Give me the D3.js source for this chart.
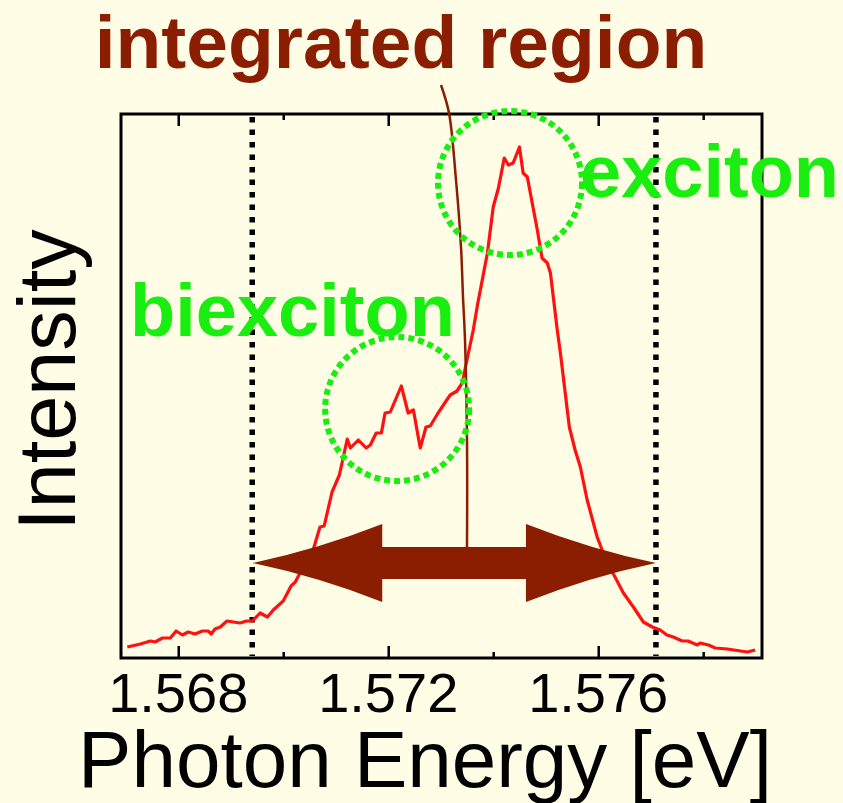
<!DOCTYPE html>
<html>
<head>
<meta charset="utf-8">
<script src="https://cdn.jsdelivr.net/npm/d3@7"></script>
<style>
  body { margin: 0; background: #fffde6; }
  svg { display: block; }
</style>
</head>
<body>
<svg width="843" height="803"></svg>
<script>
// photon energy (eV) and PL intensity (arb. units)
var energy = [1.56703,1.56728,1.56747,1.56756,1.56770,1.56785,1.56796,1.56808,1.56819,1.56832,
  1.56846,1.56857,1.56863,1.56870,1.56880,1.56893,1.56905,1.56918,1.56930,1.56941,
  1.56956,1.56970,1.56981,1.57000,1.57008,1.57015,1.57023,1.57032,1.57042,1.57057,
  1.57070,1.57078,1.57093,1.57107,1.57122,1.57128,1.57143,1.57158,1.57166,1.57177,
  1.57187,1.57194,1.57204,1.57225,1.57238,1.57248,1.57261,1.57272,1.57280,1.57295,
  1.57318,1.57331,1.57341,1.57350,1.57362,1.57370,1.57389,1.57400,1.57410,1.57421,
  1.57429,1.57438,1.57450,1.57457,1.57465,1.57484,1.57493,1.57503,1.57509,1.57522,
  1.57528,1.57545,1.57556,1.57566,1.57579,1.57598,1.57617,1.57632,1.57648,1.57667,
  1.57686,1.57703,1.57718,1.57731,1.57743,1.57760,1.57771,1.57789,1.57794,1.57810,
  1.57823,1.57846,1.57884,1.57899];
var intensity = [11,14,17,16,20,20,27,23,26,24,
  27,27,24,29,31,37,36,35,37,37,
  45,41,48,57,65,72,76,85,98,108,
  131,132,166,183,219,210,218,210,213,225,
  225,245,246,272,245,248,210,231,232,245,
  263,267,275,298,328,353,405,451,470,500,
  493,495,511,485,481,428,400,395,385,328,
  305,231,208,191,158,121,95,81,65,51,
  36,31,28,23,21,17,17,13,15,13,
  10,9,6,8];

var majorTicks = [1.568, 1.572, 1.576];
var minorTicks = [1.570, 1.574, 1.578];
var regionEdges = [1.56941, 1.57710];   // integrated region limits
var peakNames = ["biexciton", "exciton"];
var peakE = [1.57217, 1.57432];
var peakI = [249, 475];

var svg = d3.select("svg");
var bg = "#fffde6";
var brown = "#8b1d00";
var green = "#1aee11";
var font = "Liberation Sans, Arial, sans-serif";

var x = d3.scaleLinear().domain([1.56691, 1.57912]).range([121, 762]);
var y = d3.scaleLinear().domain([0, 544]).range([658, 114]);

svg.append("rect").attr("width", 843).attr("height", 803).attr("fill", bg);

// ticks, bottom and top, pointing inward
function ticks(axisFn, vals, len, ypos) {
  var g = svg.append("g")
    .attr("transform", "translate(0," + ypos + ")")
    .call(axisFn(x).tickValues(vals).tickSize(len).tickSizeOuter(0).tickFormat(""));
  g.select(".domain").remove();
  g.selectAll("line").attr("stroke", "#000").attr("stroke-width", 2.5);
  return g;
}
ticks(d3.axisBottom, majorTicks, -12, 658);
ticks(d3.axisBottom, minorTicks, -6, 658);
ticks(d3.axisTop, majorTicks, -12, 114);
ticks(d3.axisTop, minorTicks, -6, 114);

svg.selectAll("text.tick-label")
  .data(majorTicks)
  .enter().append("text")
  .attr("class", "tick-label")
  .attr("x", function(d){ return x(d); })
  .attr("y", 712)
  .attr("text-anchor", "middle")
  .style("font-family", font)
  .style("font-size", "56px")
  .text(function(d){ return d3.format(".3f")(d); });

// region limits
svg.selectAll("line.edge")
  .data(regionEdges)
  .enter().append("line")
  .attr("class", "edge")
  .attr("x1", function(d){ return x(d); })
  .attr("x2", function(d){ return x(d); })
  .attr("y1", 117).attr("y2", 656)
  .attr("stroke", "#000")
  .attr("stroke-width", 5.5)
  .attr("stroke-dasharray", "5.5,7");

// spectrum
var pts = energy.map(function(e, i){ return [e, intensity[i]]; });
svg.append("path")
  .attr("d", d3.line().x(function(d){ return x(d[0]); }).y(function(d){ return y(d[1]); })(pts))
  .attr("fill", "none")
  .attr("stroke", "#ff1111")
  .attr("stroke-width", 3.2)
  .attr("stroke-linejoin", "round");

// frame
svg.append("rect")
  .attr("x", 121).attr("y", 114)
  .attr("width", 641).attr("height", 544)
  .attr("fill", "none")
  .attr("stroke", "#000")
  .attr("stroke-width", 3);

// double arrow, heads with slightly concave sides
var xl = x(regionEdges[0]), xr = x(regionEdges[1]), yc = y(95);
var headLen = 130, headH = 39, shaftH = 16, bend = 6;
var arrow = d3.path();
arrow.moveTo(xl, yc);
arrow.quadraticCurveTo(xl + headLen / 2, yc - headH / 2 + bend, xl + headLen, yc - headH);
arrow.lineTo(xl + headLen, yc - shaftH);
arrow.lineTo(xr - headLen, yc - shaftH);
arrow.lineTo(xr - headLen, yc - headH);
arrow.quadraticCurveTo(xr - headLen / 2, yc - headH / 2 + bend, xr, yc);
arrow.quadraticCurveTo(xr - headLen / 2, yc + headH / 2 - bend, xr - headLen, yc + headH);
arrow.lineTo(xr - headLen, yc + shaftH);
arrow.lineTo(xl + headLen, yc + shaftH);
arrow.lineTo(xl + headLen, yc + headH);
arrow.quadraticCurveTo(xl + headLen / 2, yc + headH / 2 - bend, xl, yc);
arrow.closePath();
svg.append("path").attr("d", arrow.toString()).attr("fill", brown);

// pointer from the title to the arrow
var pointer = [[441, 85], [449, 113], [456, 180], [461, 247], [463, 297], [465, 340], [467, 440], [467, 548]];
svg.append("path")
  .attr("d", d3.line().curve(d3.curveCatmullRom)(pointer))
  .attr("fill", "none")
  .attr("stroke", brown)
  .attr("stroke-width", 2.5);

// dotted circles round the peaks
svg.selectAll("circle.peak")
  .data(peakE)
  .enter().append("circle")
  .attr("class", "peak")
  .attr("cx", function(d){ return x(d); })
  .attr("cy", function(d, i){ return y(peakI[i]); })
  .attr("r", 72)
  .attr("fill", "none")
  .attr("stroke", green)
  .attr("stroke-width", 6)
  .attr("stroke-dasharray", "6,4");

// labels
svg.append("text").attr("x", 130).attr("y", 336)
  .style("font-family", font).style("font-weight", "bold").style("font-size", "74px")
  .attr("fill", green).text(peakNames[0]);
svg.append("text").attr("x", 580).attr("y", 197)
  .style("font-family", font).style("font-weight", "bold").style("font-size", "74px")
  .attr("fill", green).text(peakNames[1]);

svg.append("text").attr("x", 401).attr("y", 68)
  .attr("text-anchor", "middle")
  .style("font-family", font).style("font-weight", "bold").style("font-size", "75px")
  .attr("fill", brown).text("integrated region");

svg.append("text")
  .attr("transform", "translate(75,380) rotate(-90)")
  .attr("text-anchor", "middle")
  .style("font-family", font).style("font-size", "81px")
  .text("Intensity");

svg.append("text").attr("x", 425).attr("y", 787)
  .attr("text-anchor", "middle")
  .style("font-family", font).style("font-size", "80px")
  .text("Photon Energy [eV]");
</script>
</body>
</html>
